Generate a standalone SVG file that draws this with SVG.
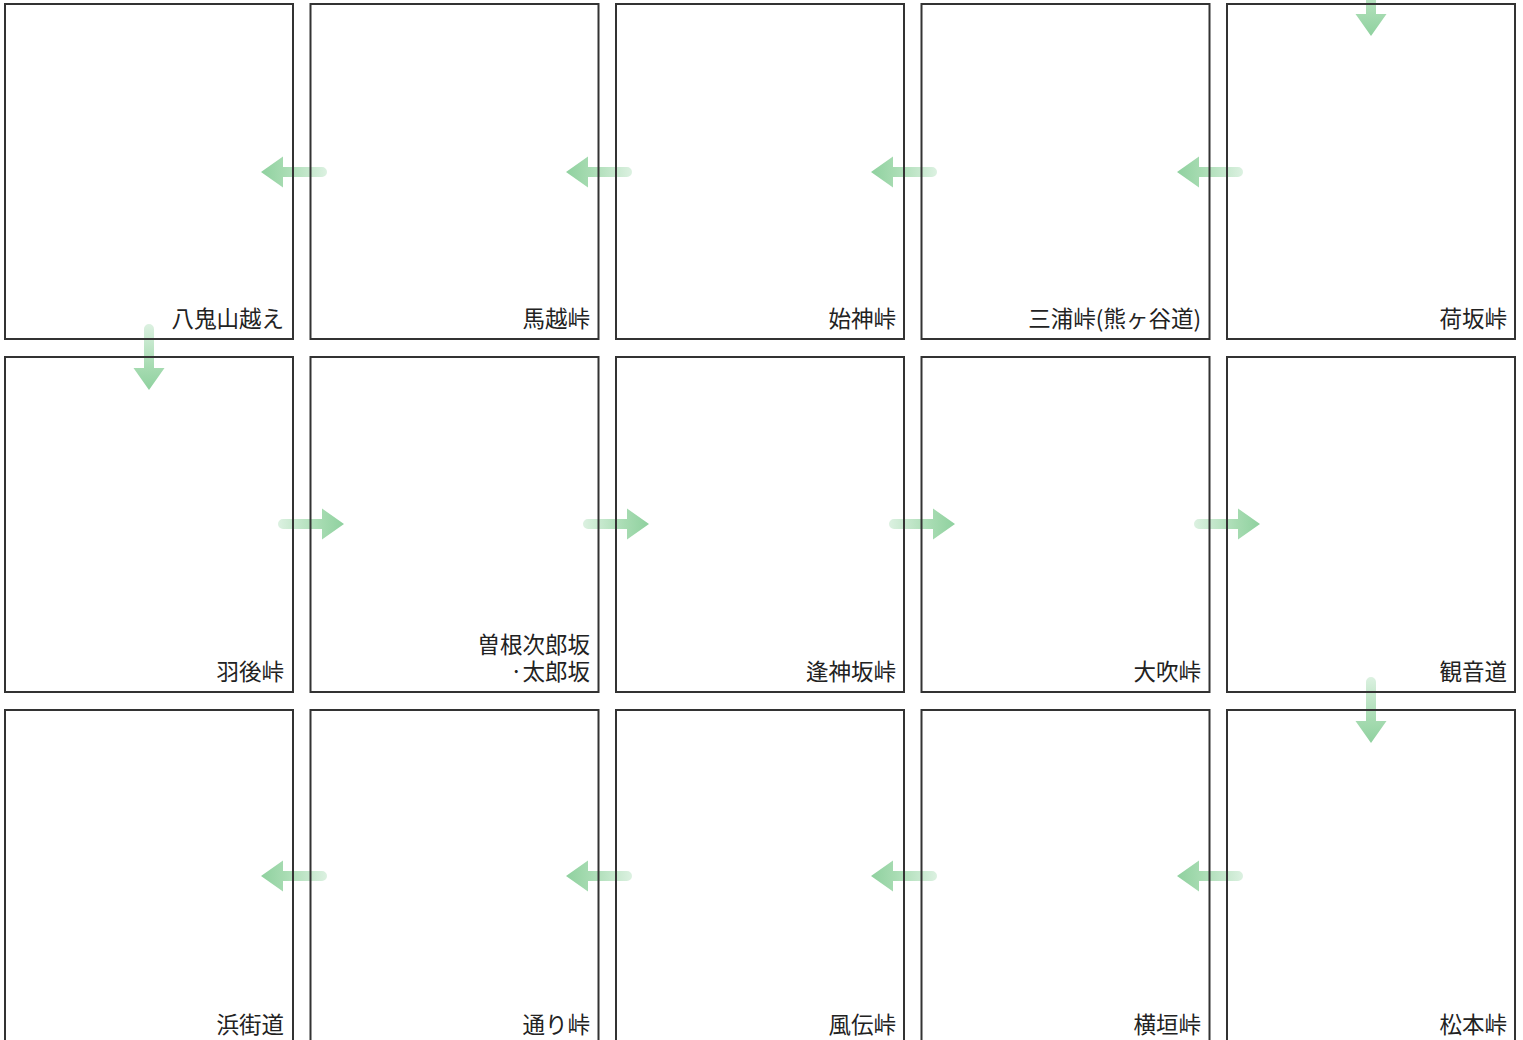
<svg xmlns="http://www.w3.org/2000/svg" xmlns:xlink="http://www.w3.org/1999/xlink" width="1523" height="1040" viewBox="0 0 1523 1040">
<style>
.box{fill:none;stroke:#333;stroke-width:2}
.lbl{font-family:"Noto Sans CJK JP","Noto Sans CJK SC",sans-serif;font-size:22.5px;fill:#222;text-anchor:end}
</style>
<defs>
<linearGradient id="ag" gradientUnits="userSpaceOnUse" x1="0" y1="0" x2="66" y2="0">
<stop offset="0" stop-color="#dcf1e1"/>
<stop offset="0.65" stop-color="#a6dbb1"/>
<stop offset="1" stop-color="#8fd19f"/>
</linearGradient>
<g id="arrow"><path d="M5,-5 H44 V-15.5 L66,0 L44,15.5 V5 H5 A5,5 0 0 1 5,-5 Z" fill="url(#ag)"/></g>
</defs>
<rect width="1523" height="1040" fill="#fff"/>
<g id="connectors">
<use xlink:href="#arrow" transform="translate(1371,-30) rotate(90)"/>
<use xlink:href="#arrow" transform="translate(1243,172) rotate(180)"/>
<use xlink:href="#arrow" transform="translate(937,172) rotate(180)"/>
<use xlink:href="#arrow" transform="translate(632,172) rotate(180)"/>
<use xlink:href="#arrow" transform="translate(327,172) rotate(180)"/>
<use xlink:href="#arrow" transform="translate(149,324) rotate(90)"/>
<use xlink:href="#arrow" transform="translate(278,524)"/>
<use xlink:href="#arrow" transform="translate(583,524)"/>
<use xlink:href="#arrow" transform="translate(889,524)"/>
<use xlink:href="#arrow" transform="translate(1194,524)"/>
<use xlink:href="#arrow" transform="translate(1371,677) rotate(90)"/>
<use xlink:href="#arrow" transform="translate(1243,876) rotate(180)"/>
<use xlink:href="#arrow" transform="translate(937,876) rotate(180)"/>
<use xlink:href="#arrow" transform="translate(632,876) rotate(180)"/>
<use xlink:href="#arrow" transform="translate(327,876) rotate(180)"/>
</g>
<g id="n1"><rect class="box" x="5" y="4" width="288" height="335"/><text class="lbl" x="284" y="327">八鬼山越え</text></g>
<g id="n2"><rect class="box" x="310.5" y="4" width="288" height="335"/><text class="lbl" x="590" y="327">馬越峠</text></g>
<g id="n3"><rect class="box" x="616" y="4" width="288" height="335"/><text class="lbl" x="896" y="327">始神峠</text></g>
<g id="n4"><rect class="box" x="921.5" y="4" width="288" height="335"/><text class="lbl" x="1201" y="327">三浦峠(熊ヶ谷道)</text></g>
<g id="n5"><rect class="box" x="1227" y="4" width="288" height="335"/><text class="lbl" x="1507" y="327">荷坂峠</text></g>
<g id="n6"><rect class="box" x="5" y="357" width="288" height="335"/><text class="lbl" x="284" y="680">羽後峠</text></g>
<g id="n7"><rect class="box" x="310.5" y="357" width="288" height="335"/><text class="lbl" x="590" y="653">曽根次郎坂</text><text class="lbl" x="590" y="680">·太郎坂</text></g>
<g id="n8"><rect class="box" x="616" y="357" width="288" height="335"/><text class="lbl" x="896" y="680">逢神坂峠</text></g>
<g id="n9"><rect class="box" x="921.5" y="357" width="288" height="335"/><text class="lbl" x="1201" y="680">大吹峠</text></g>
<g id="n10"><rect class="box" x="1227" y="357" width="288" height="335"/><text class="lbl" x="1507" y="680">観音道</text></g>
<g id="n11"><rect class="box" x="5" y="710" width="288" height="340"/><text class="lbl" x="284" y="1033">浜街道</text></g>
<g id="n12"><rect class="box" x="310.5" y="710" width="288" height="340"/><text class="lbl" x="590" y="1033">通り峠</text></g>
<g id="n13"><rect class="box" x="616" y="710" width="288" height="340"/><text class="lbl" x="896" y="1033">風伝峠</text></g>
<g id="n14"><rect class="box" x="921.5" y="710" width="288" height="340"/><text class="lbl" x="1201" y="1033">横垣峠</text></g>
<g id="n15"><rect class="box" x="1227" y="710" width="288" height="340"/><text class="lbl" x="1507" y="1033">松本峠</text></g>
</svg>
